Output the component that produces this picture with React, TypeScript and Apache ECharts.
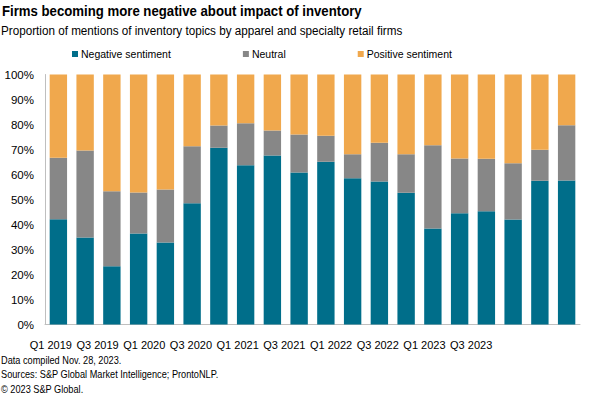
import React, { useEffect, useRef } from "react";
import * as echarts from "echarts";

const categories = [
  "Q1 2019", "Q2 2019", "Q3 2019", "Q4 2019",
  "Q1 2020", "Q2 2020", "Q3 2020", "Q4 2020",
  "Q1 2021", "Q2 2021", "Q3 2021", "Q4 2021",
  "Q1 2022", "Q2 2022", "Q3 2022", "Q4 2022",
  "Q1 2023", "Q2 2023", "Q3 2023", "Q4 2023",
];
const tickLabels = [
  "Q1 2019", "Q3 2019", "Q1 2020", "Q3 2020", "Q1 2021",
  "Q3 2021", "Q1 2022", "Q3 2022", "Q1 2023", "Q3 2023",
];
const negative = [42.1, 34.8, 23.3, 36.4, 32.8, 48.5, 70.7, 63.7, 67.6, 60.8, 65.1, 58.5, 57.2, 52.7, 38.4, 44.5, 45.3, 42.0, 57.5, 57.6];
const neutral = [24.6, 34.8, 30.0, 16.4, 21.2, 22.8, 8.9, 16.8, 10.0, 15.2, 10.4, 9.6, 15.5, 15.4, 33.3, 21.9, 21.0, 22.5, 12.4, 22.1];
const positive = [33.3, 30.4, 46.7, 47.2, 46.0, 28.7, 20.4, 19.5, 22.4, 24.0, 24.5, 31.9, 27.3, 31.9, 28.3, 33.6, 33.7, 35.5, 30.1, 20.3];

const titleText = "Firms becoming more negative about impact of inventory";
const subtitleText = "Proportion of mentions of inventory topics by apparel and specialty retail firms";
const footerLines = [
  "Data compiled Nov. 28, 2023.",
  "Sources: S&P Global Market Intelligence; ProntoNLP.",
  "© 2023 S&P Global.",
];

const FONT = "'Liberation Sans', Arial, sans-serif";

export default function App() {
  const ref = useRef<HTMLDivElement>(null);
  useEffect(() => {
    if (!ref.current) return;
    const chart = echarts.init(ref.current, null, { renderer: "svg" });
    const textEl = (text: string, x: number, y: number, size: number, weight: string, sx: number) => ({
      type: "text",
      x, y, scaleX: sx, scaleY: 1,
      style: {
        text,
        font: `${weight} ${size}px ${FONT}`,
        fill: "#000",
        textVerticalAlign: "middle",
        verticalAlign: "middle",
      },
    });
    chart.setOption({
      animation: false,
      backgroundColor: "#ffffff",
      textStyle: { fontFamily: FONT },
      graphic: [
        textEl(titleText, 2, 10.5, 15, "bold", 0.88),
        textEl(subtitleText, 1, 30.5, 12.5, "normal", 0.935),
        textEl(footerLines[0], 1, 360, 10, "normal", 0.92),
        textEl(footerLines[1], 1, 374.5, 10, "normal", 0.92),
        textEl(footerLines[2], 1, 389, 10, "normal", 0.92),
      ],
      legend: {
        top: 48.5, left: 72, padding: 0,
        itemWidth: 6, itemHeight: 6, itemGap: 72,
        icon: "rect",
        textStyle: { fontFamily: FONT, fontSize: 10.5, color: "#000", padding: [0, 0, 0, -2] },
        data: ["Negative sentiment", "Neutral", "Positive sentiment"],
      },
      grid: [
        { left: 45, right: 20, top: 74.5, bottom: 73.5, containLabel: false },
        { left: 27.5, width: 467, top: 74.5, bottom: 73.5, containLabel: false },
      ],
      xAxis: [
        {
          type: "category", gridIndex: 0, data: categories,
          axisLine: { lineStyle: { color: "#bfbfbf", width: 1 } },
          axisTick: { show: false },
          axisLabel: { show: false },
        },
        {
          type: "category", gridIndex: 1, data: tickLabels,
          axisLine: { show: false },
          axisTick: { show: false },
          axisLabel: { fontFamily: FONT, fontSize: 11, color: "#000", margin: 15, interval: 0 },
        },
      ],
      yAxis: [
        {
          type: "value", gridIndex: 0, min: 0, max: 100, interval: 10,
          axisLine: { show: true, lineStyle: { color: "#bfbfbf", width: 1 } },
          axisTick: { show: false },
          splitLine: { show: false },
          axisLabel: { formatter: "{value}%", fontFamily: FONT, fontSize: 11.5, color: "#000", margin: 11 },
        },
        {
          type: "value", gridIndex: 1, min: 0, max: 100, show: false,
        },
      ],
      series: [
        {
          name: "Negative sentiment", type: "bar", stack: "s", data: negative,
          itemStyle: { color: "#006e8a" }, barCategoryGap: "35%",
          xAxisIndex: 0, yAxisIndex: 0,
        },
        {
          name: "Neutral", type: "bar", stack: "s", data: neutral,
          itemStyle: { color: "#878787" }, barCategoryGap: "35%",
          xAxisIndex: 0, yAxisIndex: 0,
        },
        {
          name: "Positive sentiment", type: "bar", stack: "s", data: positive,
          itemStyle: { color: "#f0a84d" }, barCategoryGap: "35%",
          xAxisIndex: 0, yAxisIndex: 0,
        },
      ],
    });
    return () => chart.dispose();
  }, []);
  return <div ref={ref} style={{ width: 600, height: 398, position: "absolute", left: 0, top: 0 }} />;
}
